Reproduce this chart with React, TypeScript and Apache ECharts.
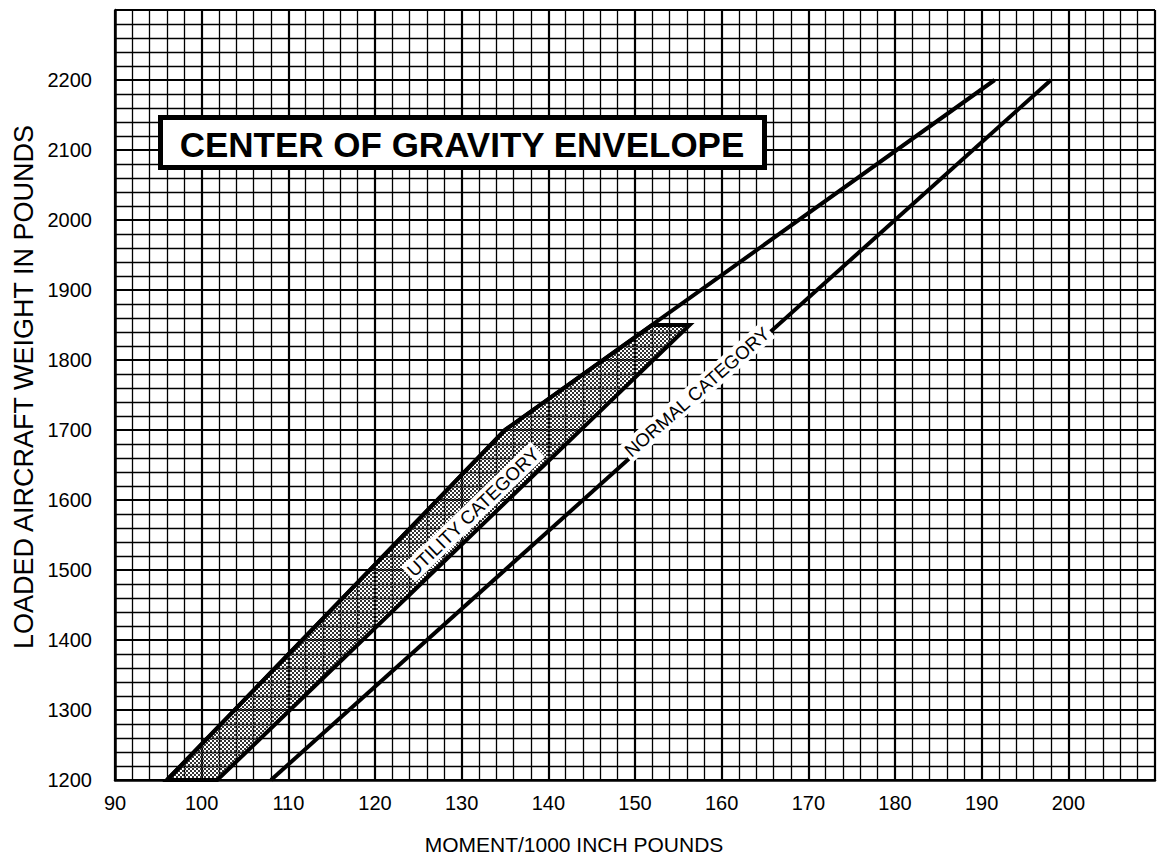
import React, { useEffect, useRef } from "react";
import * as echarts from "echarts";

// Axis ticks
const xTicks = [90, 100, 110, 120, 130, 140, 150, 160, 170, 180, 190, 200];
const yTicks = [1200, 1300, 1400, 1500, 1600, 1700, 1800, 1900, 2000, 2100, 2200];

// Normal category forward limit (moment / weight)
const forwardMoment = [96, 135, 191.5];
const forwardWeight = [1200, 1700, 2200];

// Normal category aft limit
const aftMoment = [108, 198];
const aftWeight = [1200, 2200];

// Utility category envelope (shaded)
const utilityMoment = [96, 135, 152, 156.3, 101.8];
const utilityWeight = [1200, 1700, 1850, 1850, 1200];

const titleText = "CENTER OF GRAVITY ENVELOPE";
const xAxisTitle = "MOMENT/1000 INCH POUNDS";
const yAxisTitle = "LOADED AIRCRAFT WEIGHT IN POUNDS";
const utilityLabel = "UTILITY CATEGORY";
const normalLabel = "NORMAL CATEGORY";

const FONT = '"Liberation Sans", Arial, Helvetica, sans-serif';

export default function App() {
  const ref = useRef<HTMLDivElement>(null);

  useEffect(() => {
    if (!ref.current) return;
    const chart = echarts.init(ref.current, undefined, { renderer: "svg" });

    const cv = document.createElement("canvas");
    cv.width = 4;
    cv.height = 4;
    const ctx = cv.getContext("2d");
    if (ctx) {
      ctx.fillStyle = "#333";
      ctx.fillRect(0, 0, 2, 2);
      ctx.fillRect(2, 2, 2, 2);
    }
    const stipple: any = { image: cv, repeat: "repeat", imageWidth: 4, imageHeight: 4 };

    const xMin = xTicks[0];
    const xMax = 210;
    const yMin = yTicks[0];
    const yMax = 2300;

    chart.setOption({
      animation: false,
      backgroundColor: "#fff",
      grid: { left: 115, top: 10, right: -22.6, bottom: 77, containLabel: false },
      xAxis: {
        type: "value",
        min: xMin,
        max: xMax,
        interval: 10,
        axisLine: { show: true, onZero: false, lineStyle: { color: "#000", width: 2.5 } },
        axisTick: { show: false },
        minorTick: { show: false, splitNumber: 5 },
        axisLabel: {
          color: "#000",
          fontSize: 20,
          fontFamily: FONT,
          margin: 13,
          formatter: (v: number) => (xTicks.includes(v) ? String(v) : ""),
        },
        splitLine: { show: true, lineStyle: { color: "#000", width: 2.2 } },
        minorSplitLine: { show: true, lineStyle: { color: "#000", width: 1.3 } },
      },
      yAxis: {
        type: "value",
        min: yMin,
        max: yMax,
        interval: 100,
        axisLine: { show: true, onZero: false, lineStyle: { color: "#000", width: 2.5 } },
        axisTick: { show: false },
        minorTick: { show: false, splitNumber: 5 },
        axisLabel: {
          color: "#000",
          fontSize: 20,
          fontFamily: FONT,
          margin: 23,
          formatter: (v: number) => (yTicks.includes(v) ? String(v) : ""),
        },
        splitLine: { show: true, lineStyle: { color: "#000", width: 2.2 } },
        minorSplitLine: { show: true, lineStyle: { color: "#000", width: 1.3 } },
      },
      series: [
        {
          type: "custom",
          name: "Utility",
          z: 3,
          data: [[utilityMoment[0], utilityWeight[0]]],
          renderItem: (params: any, api: any) => {
            const pts = utilityMoment.map((m, i) => api.coord([m, utilityWeight[i]]));
            return {
              type: "polygon",
              shape: { points: pts },
              style: { fill: stipple, stroke: "#000", lineWidth: 4, lineJoin: "miter" },
            };
          },
        },
        {
          type: "line",
          name: "Forward",
          z: 4,
          symbol: "none",
          data: forwardMoment.map((m, i) => [m, forwardWeight[i]]),
          lineStyle: { color: "#000", width: 4 },
        },
        {
          type: "line",
          name: "Aft",
          z: 4,
          symbol: "none",
          data: aftMoment.map((m, i) => [m, aftWeight[i]]),
          lineStyle: { color: "#000", width: 4 },
        },
      ],
      graphic: [
        {
          type: "rect",
          z: 20,
          shape: { x: 160.5, y: 117.5, width: 604, height: 50 },
          style: { fill: "#fff", stroke: "#000", lineWidth: 5 },
        },
        {
          type: "text",
          z: 21,
          x: 462,
          y: 144,
          style: {
            text: titleText,
            fontSize: 35,
            fontWeight: "bold",
            fontFamily: FONT,
            fill: "#000",
            align: "center",
            verticalAlign: "middle",
          },
        },
        {
          type: "text",
          z: 21,
          x: 473,
          y: 512,
          rotation: (44 * Math.PI) / 180,
          style: {
            text: utilityLabel,
            fontSize: 18.5,
            fontFamily: FONT,
            fill: "#000",
            align: "center",
            verticalAlign: "middle",
            backgroundColor: "#fff",
            padding: [1, 2],
          },
        },
        {
          type: "text",
          z: 21,
          x: 697,
          y: 392,
          rotation: (41.2 * Math.PI) / 180,
          style: {
            text: normalLabel,
            fontSize: 18.5,
            fontFamily: FONT,
            fill: "#000",
            align: "center",
            verticalAlign: "middle",
            backgroundColor: "#fff",
            padding: [1, 2],
          },
        },
        {
          type: "text",
          z: 21,
          x: 24,
          y: 387,
          rotation: Math.PI / 2,
          style: {
            text: yAxisTitle,
            fontSize: 27,
            fontFamily: FONT,
            fill: "#000",
            align: "center",
            verticalAlign: "middle",
          },
        },
        {
          type: "text",
          z: 21,
          x: 574,
          y: 844,
          style: {
            text: xAxisTitle,
            fontSize: 21,
            fontFamily: FONT,
            fill: "#000",
            align: "center",
            verticalAlign: "middle",
          },
        },
      ],
    });

    return () => {
      chart.dispose();
    };
  }, []);

  return (
    <div
      ref={ref}
      style={{ position: "absolute", left: 0, top: 0, width: 1158, height: 857, overflow: "hidden" }}
    />
  );
}
